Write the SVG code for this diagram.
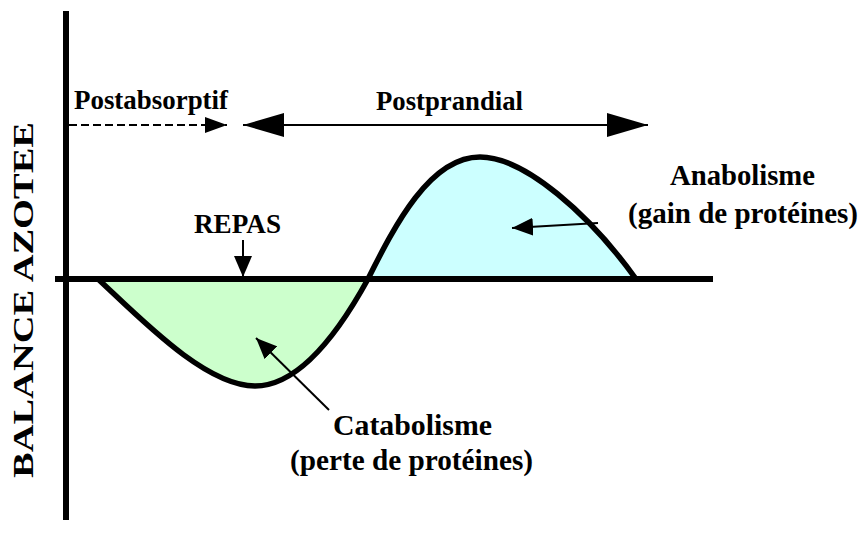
<svg xmlns="http://www.w3.org/2000/svg" width="868" height="533" viewBox="0 0 868 533">
<style>
text{font-family:'Liberation Serif','DejaVu Serif','Times New Roman',serif;font-weight:700;fill:#000}
.lbl{font-size:29px}
.hdr{font-size:26.5px}
.ax{stroke:#000;stroke-width:6;fill:none}
.cv{stroke:#000;stroke-width:5.5;fill:none;stroke-linejoin:round}
.ar{stroke:#000;stroke-width:2;fill:none}
</style>
<defs>
<marker id="big" viewBox="0 0 41 24" refX="41" refY="12" markerWidth="41" markerHeight="24" markerUnits="userSpaceOnUse" orient="auto-start-reverse"><path d="M0,0 L41,12 L0,24 z" fill="#000"/></marker>
<marker id="sm" viewBox="0 0 21 18" refX="21" refY="9" markerWidth="21" markerHeight="18" markerUnits="userSpaceOnUse" orient="auto"><path d="M0,0 L21,9 L0,18 z" fill="#000"/></marker>
<marker id="dash" viewBox="0 0 22 16" refX="22" refY="8" markerWidth="22" markerHeight="16" markerUnits="userSpaceOnUse" orient="auto"><path d="M0,0 L22,8 L0,16 z" fill="#000"/></marker>
</defs>
<g id="fills">
<path d="M98,279 C140,318 205,386 255,386 C300,386 340,330 368,279 Z" fill="#ccffcc"/>
<path d="M368,279 C395,225 430,157 480,157 C525,157 590,215 636,279 Z" fill="#ccffff"/>
</g>
<g id="axes">
<line class="ax" x1="66" y1="11" x2="66" y2="520"/>
<line class="ax" x1="55" y1="279" x2="713" y2="279"/>
</g>
<g id="curve">
<path class="cv" d="M98,279 C140,318 205,386 255,386 C300,386 340,330 368,279 C395,225 430,157 480,157 C525,157 590,215 636,279"/>
</g>
<g id="connectors">
<line class="ar" x1="69" y1="125" x2="227" y2="125" stroke-dasharray="8,4" marker-end="url(#dash)"/>
<line class="ar" x1="243" y1="125" x2="648" y2="125" marker-start="url(#big)" marker-end="url(#big)"/>
<line class="ar" x1="243" y1="240" x2="243" y2="277" marker-end="url(#sm)"/>
<line class="ar" x1="598" y1="223" x2="512" y2="228" marker-end="url(#sm)"/>
<line class="ar" x1="329" y1="410" x2="256" y2="338" marker-end="url(#sm)"/>
</g>
<g id="yaxis-label">
<text transform="translate(33,300) rotate(-90)" text-anchor="middle" textLength="356" lengthAdjust="spacingAndGlyphs" font-size="30">BALANCE AZOTEE</text>
</g>
<g id="postabsorptif"><text class="hdr" x="74" y="109" textLength="154" lengthAdjust="spacingAndGlyphs">Postabsorptif</text></g>
<g id="postprandial"><text class="hdr" x="449.5" y="110" text-anchor="middle" textLength="147" lengthAdjust="spacingAndGlyphs">Postprandial</text></g>
<g id="repas"><text class="hdr" x="237.5" y="233" text-anchor="middle" textLength="87" lengthAdjust="spacingAndGlyphs">REPAS</text></g>
<g id="anabolisme">
<text class="lbl" x="742.5" y="185" text-anchor="middle" textLength="145" lengthAdjust="spacingAndGlyphs">Anabolisme</text>
<text class="lbl" x="743" y="223" text-anchor="middle" textLength="230" lengthAdjust="spacingAndGlyphs">(gain de protéines)</text>
</g>
<g id="catabolisme">
<text class="lbl" x="412.5" y="435" text-anchor="middle" textLength="159" lengthAdjust="spacingAndGlyphs">Catabolisme</text>
<text class="lbl" x="411.5" y="470" text-anchor="middle" textLength="243" lengthAdjust="spacingAndGlyphs">(perte de protéines)</text>
</g>
</svg>
